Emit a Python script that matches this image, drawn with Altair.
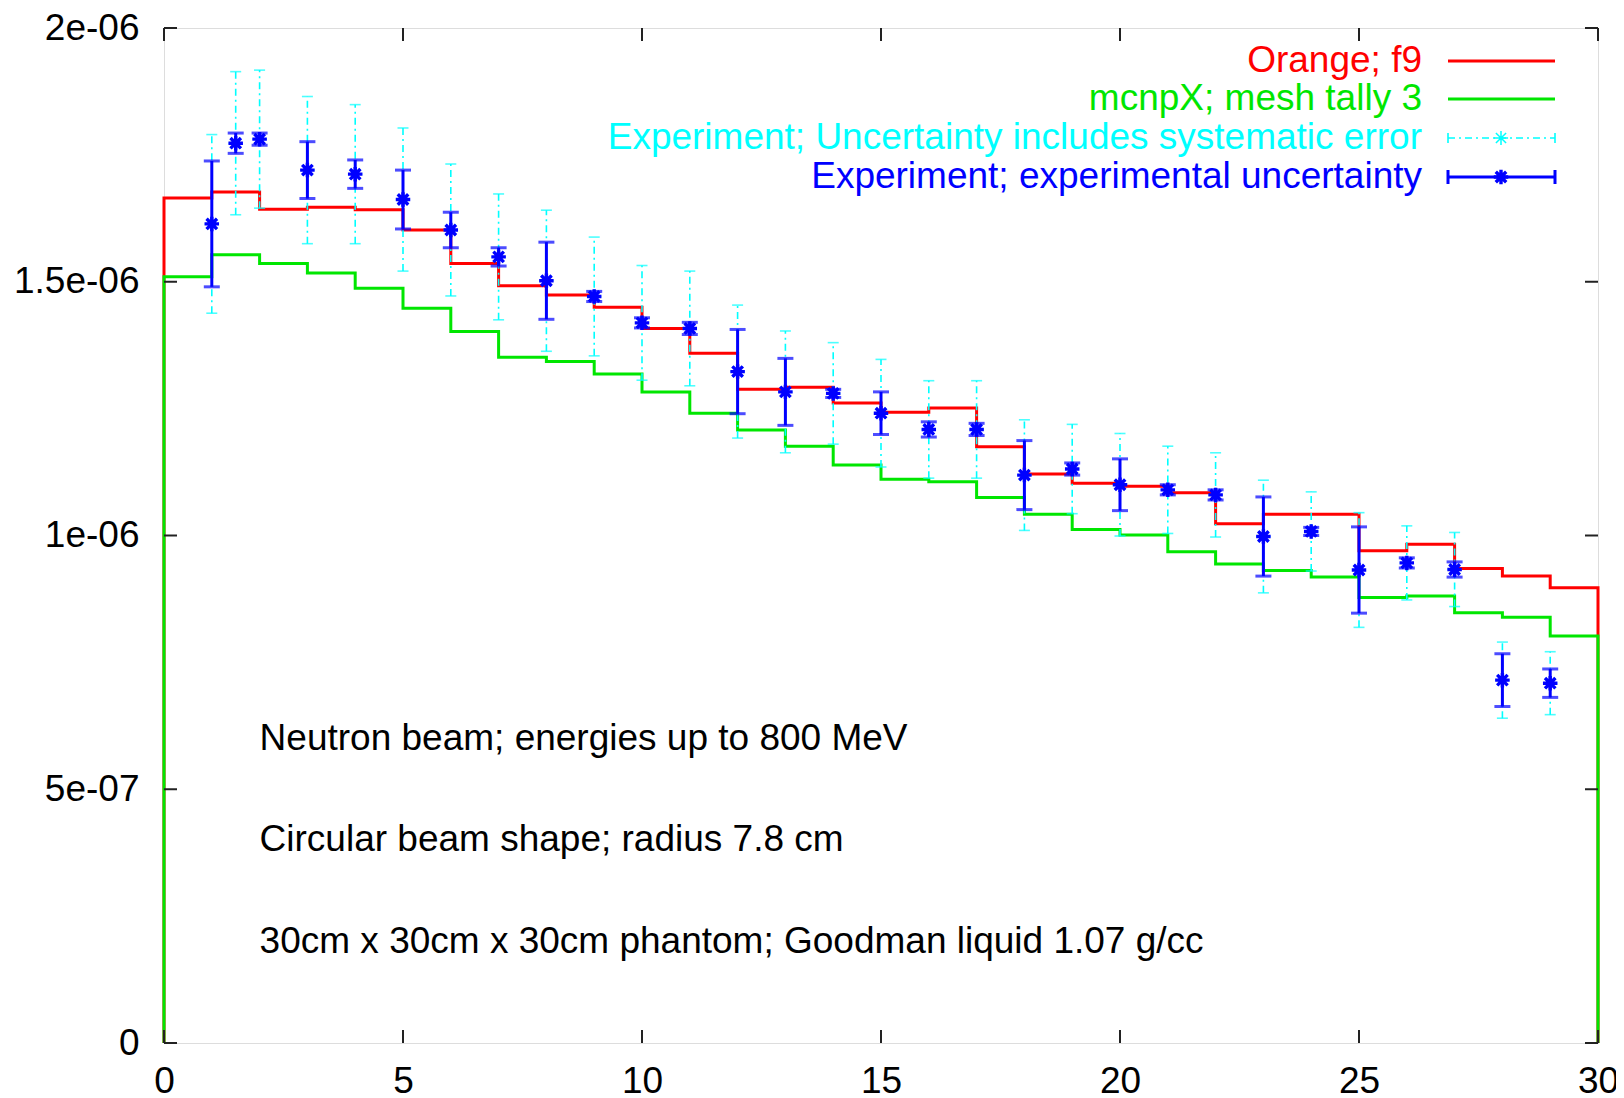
import altair as alt
import pandas as pd

FONT = "Liberation Sans"

# ---------------- data (values in units of 1e-6) ----------------
bin_edges = list(range(0, 31))
orange_f9 = [1.665, 1.677, 1.643, 1.647, 1.642, 1.602, 1.536, 1.492, 1.474, 1.450,
             1.408, 1.359, 1.288, 1.292, 1.261, 1.243, 1.251, 1.175, 1.121, 1.103,
             1.097, 1.084, 1.023, 1.042, 1.042, 0.970, 0.983, 0.935, 0.920, 0.897]
mcnpx_mesh3 = [1.510, 1.553, 1.536, 1.517, 1.487, 1.448, 1.402, 1.351, 1.343, 1.318,
               1.283, 1.241, 1.208, 1.176, 1.139, 1.111, 1.106, 1.075, 1.042, 1.012,
               1.001, 0.968, 0.944, 0.931, 0.918, 0.878, 0.881, 0.848, 0.839, 0.802]
exp_x = [1, 1.5, 2, 3, 4, 5, 6, 7, 8, 9, 10, 11, 12, 13, 14, 15, 16, 17, 18, 19,
         20, 21, 22, 23, 24, 25, 26, 27, 28, 29]
exp_y = [1.614, 1.773, 1.781, 1.720, 1.712, 1.662, 1.602, 1.549, 1.502, 1.471,
         1.419, 1.408, 1.323, 1.283, 1.280, 1.241, 1.209, 1.209, 1.119, 1.131,
         1.100, 1.090, 1.080, 0.998, 1.008, 0.932, 0.946, 0.933, 0.715, 0.709]
exp_err = [0.124, 0.020, 0.012, 0.056, 0.028, 0.058, 0.035, 0.018, 0.076, 0.010,
           0.010, 0.012, 0.083, 0.066, 0.008, 0.042, 0.015, 0.012, 0.068, 0.012,
           0.051, 0.010, 0.010, 0.078, 0.008, 0.085, 0.010, 0.015, 0.052, 0.028]
sys_err = [0.176, 0.141, 0.136, 0.145, 0.137, 0.141, 0.130, 0.124, 0.139, 0.117,
           0.113, 0.113, 0.131, 0.120, 0.100, 0.106, 0.096, 0.096, 0.109, 0.088,
           0.101, 0.086, 0.083, 0.111, 0.078, 0.113, 0.073, 0.073, 0.075, 0.062]
SCALE = 1e-6

x_ticks = [0, 5, 10, 15, 20, 25, 30]
y_ticks = [0, 5e-7, 1e-6, 1.5e-6, 2e-6]
y_tick_labels = ["0", "5e-07", "1e-06", "1.5e-06", "2e-06"]

legend_labels = ["Orange; f9", "mcnpX; mesh tally 3",
                 "Experiment; Uncertainty includes systematic error",
                 "Experiment; experimental uncertainty"]
legend_colors = ["#ff0000", "#00e600", "#00ffff", "#0000ff"]

notes = ["Neutron beam; energies up to 800 MeV",
         "Circular beam shape; radius 7.8 cm",
         "30cm x 30cm x 30cm phantom; Goodman liquid 1.07 g/cc"]
notes_x = [2, 2, 2]
notes_y = [6e-7, 4e-7, 2e-7]

RED, GREEN, CYAN, BLUE = legend_colors

# ---------------- layout ----------------
W, H = 1434, 1015
TICK = 13
STAR = "M-1,0L1,0M0,-1L0,1M-0.72,-0.72L0.72,0.72M-0.72,0.72L0.72,-0.72"

xscale = alt.Scale(domain=[0, 30], nice=False, zero=False)
yscale = alt.Scale(domain=[0, 2e-6], nice=False, zero=True)
xaxis = alt.Axis(values=x_ticks, title=None, ticks=False, domain=False, grid=False,
                 labelFont=FONT, labelFontSize=37, labelColor="black",
                 labelPadding=20, labelFlush=False)
lab_expr = "[" + ",".join("'%s'" % s for s in y_tick_labels) + "][round(datum.value*2e6)]"
yaxis = alt.Axis(values=y_ticks, title=None, ticks=False, domain=False, grid=False,
                 labelFont=FONT, labelFontSize=37, labelColor="black",
                 labelPadding=25, labelExpr=lab_expr, labelFlush=False)


def X(f):
    return alt.X(f, type="quantitative", scale=xscale, axis=xaxis)


def Y(f):
    return alt.Y(f, type="quantitative", scale=yscale, axis=yaxis)


def step_df(vals):
    xs = [bin_edges[0]] + bin_edges[:-1] + [bin_edges[-1], bin_edges[-1]]
    ys = [0] + [v * SCALE for v in vals] + [vals[-1] * SCALE, 0]
    return pd.DataFrame({"x": xs, "y": ys, "o": list(range(len(xs)))})


layers = []
for vals, col in [(orange_f9, RED), (mcnpx_mesh3, GREEN)]:
    layers.append(
        alt.Chart(step_df(vals)).mark_line(interpolate="step-after", strokeWidth=3,
                                           color=col, clip=False)
        .encode(x=X("x"), y=Y("y"), order="o:Q"))

exp = pd.DataFrame({
    "x": exp_x,
    "y": [v * SCALE for v in exp_y],
    "lo": [(v - e) * SCALE for v, e in zip(exp_y, exp_err)],
    "hi": [(v + e) * SCALE for v, e in zip(exp_y, exp_err)],
    "slo": [(v - e) * SCALE for v, e in zip(exp_y, sys_err)],
    "shi": [(v + e) * SCALE for v, e in zip(exp_y, sys_err)],
})

base = alt.Chart(exp)
# systematic (cyan, dash-dot)
layers.append(base.mark_rule(color=CYAN, strokeWidth=1.6, strokeDash=[7, 4, 2, 4])
              .encode(x=X("x"), y=Y("slo"), y2="shi"))
for f in ["slo", "shi"]:
    layers.append(base.mark_tick(orient="horizontal", color=CYAN, size=11, thickness=1.6)
                  .encode(x=X("x"), y=Y(f)))
layers.append(base.mark_point(shape=STAR, size=200, filled=False, color=CYAN,
                              strokeWidth=1.5, opacity=1)
              .encode(x=X("x"), y=Y("y")))
# experimental (blue, solid)
layers.append(base.mark_rule(color=BLUE, strokeWidth=3)
              .encode(x=X("x"), y=Y("lo"), y2="hi"))
for f in ["lo", "hi"]:
    layers.append(base.mark_tick(orient="horizontal", color=BLUE, size=16, thickness=3)
                  .encode(x=X("x"), y=Y(f)))
layers.append(base.mark_point(shape=STAR, size=210, filled=False, color=BLUE,
                              strokeWidth=3.4, opacity=1)
              .encode(x=X("x"), y=Y("y")))

# annotations
notes_df = pd.DataFrame({"x": notes_x, "y": notes_y, "t": notes})
layers.append(alt.Chart(notes_df).mark_text(align="left", baseline="middle", font=FONT,
                                            fontSize=37, color="black")
              .encode(x=X("x"), y=Y("y"), text="t:N"))

# inward ticks (mirrored on all four sides)
xt = pd.DataFrame({"v": x_ticks})
yt = pd.DataFrame({"v": y_ticks})
tk = dict(color="#222222", strokeWidth=2)
layers.append(alt.Chart(xt).mark_rule(**tk).encode(x=X("v"), y=alt.value(H), y2=alt.value(H - TICK)))
layers.append(alt.Chart(xt).mark_rule(**tk).encode(x=X("v"), y=alt.value(0), y2=alt.value(TICK)))
layers.append(alt.Chart(yt).mark_rule(**tk).encode(y=Y("v"), x=alt.value(0), x2=alt.value(TICK)))
layers.append(alt.Chart(yt).mark_rule(**tk).encode(y=Y("v"), x=alt.value(W - TICK), x2=alt.value(W)))

# key (gnuplot-style: text right-aligned, sample to the right)
KX_TEXT, KX0, KX1, KXM = 1258, 1284, 1391, 1337
rows_y = [33, 71, 110, 149]
for i, (lab, col) in enumerate(zip(legend_labels, legend_colors)):
    ky = rows_y[i]
    d = pd.DataFrame({"t": [lab]})
    layers.append(alt.Chart(d).mark_text(align="right", baseline="middle", font=FONT,
                                         fontSize=37, color=col)
                  .encode(x=alt.value(KX_TEXT), y=alt.value(ky), text="t:N"))
    if i < 2:
        layers.append(alt.Chart(d).mark_rule(color=col, strokeWidth=3)
                      .encode(x=alt.value(KX0), x2=alt.value(KX1), y=alt.value(ky)))
    else:
        sw = 1.6 if i == 2 else 3
        dash = [7, 4, 2, 4] if i == 2 else [1, 0]
        half = 5 if i == 2 else 7
        layers.append(alt.Chart(d).mark_rule(color=col, strokeWidth=sw, strokeDash=dash)
                      .encode(x=alt.value(KX0), x2=alt.value(KX1), y=alt.value(ky)))
        for kx in (KX0, KX1):
            layers.append(alt.Chart(d).mark_rule(color=col, strokeWidth=sw)
                          .encode(x=alt.value(kx), y=alt.value(ky - half), y2=alt.value(ky + half)))
        layers.append(alt.Chart(d).mark_point(shape=STAR, size=210 if i == 3 else 200,
                                              filled=False, color=col,
                                              strokeWidth=3.4 if i == 3 else 1.5, opacity=1)
                      .encode(x=alt.value(KXM), y=alt.value(ky)))

chart = (alt.layer(*layers)
         .properties(width=W, height=H,
                     autosize=alt.AutoSizeParams(type="none"),
                     padding={"left": 156, "top": 20, "right": 18, "bottom": 60})
         .configure_view(stroke="#111111", strokeWidth=2, fill="white")
         .configure(background="white"))

chart.save("out.html", embed_options={"renderer": "svg", "actions": False})
